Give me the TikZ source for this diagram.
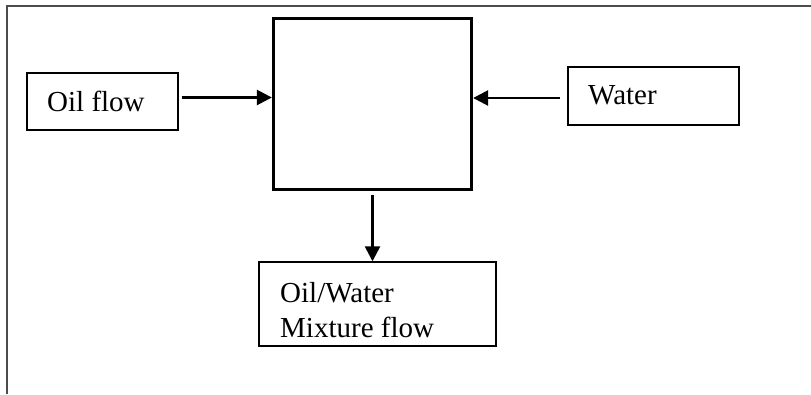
\documentclass[tikz,border=0pt]{standalone}
\usepackage{fontspec}
\setmainfont{Liberation Serif}
\usetikzlibrary{arrows.meta}
\begin{document}
\begin{tikzpicture}[x=1pt,y=-1pt,
  box/.style={draw=black,line width=1.4pt,rectangle,inner sep=0pt},
  mixer/.style={draw=black,line width=2.8pt,rectangle,inner sep=0pt,
    minimum width=198.5pt,minimum height=171.5pt},
  label/.style={inner sep=0pt,font=\fontsize{29}{35}\selectfont,align=left},
  flow/.style={line width=2.5pt,-{Triangle[length=15pt,width=15pt]}},
  frame/.style={draw=black!70,line width=1.8pt}]
\useasboundingbox (0,0) rectangle (811,394);
% page frame: top and left rules
\draw[frame] (7,394) -- (7,6) -- (811,6);
% boxes
\node[box,minimum width=151pt,minimum height=57pt] (oil) at (102.5,101.5) {};
\node[box,minimum width=171pt,minimum height=58pt] (water) at (653.5,96) {};
\node[mixer] (mix) at (372.5,104) {};
\node[box,minimum width=237pt,minimum height=84pt] (out) at (377.5,304) {};
% texts
\node[label,anchor=base west] (oiltxt) at (47,111) {Oil flow};
\node[label,anchor=base west] (watertxt) at (588,104) {Water};
\node[label,anchor=base west] (outtxt) at (280,337) {Oil/Water\\Mixture flow};
% connectors
\draw[flow] ([xshift=3pt,yshift=4pt]oil.east) -- ([yshift=4pt]oil.east -| mix.west);
\draw[flow] ([xshift=-7pt,yshift=-2pt]water.west) -- ([yshift=-2pt]water.west -| mix.east);
\draw[flow] ([yshift=-4pt]mix.south) -- (mix.south |- out.north);
\end{tikzpicture}
\end{document}
